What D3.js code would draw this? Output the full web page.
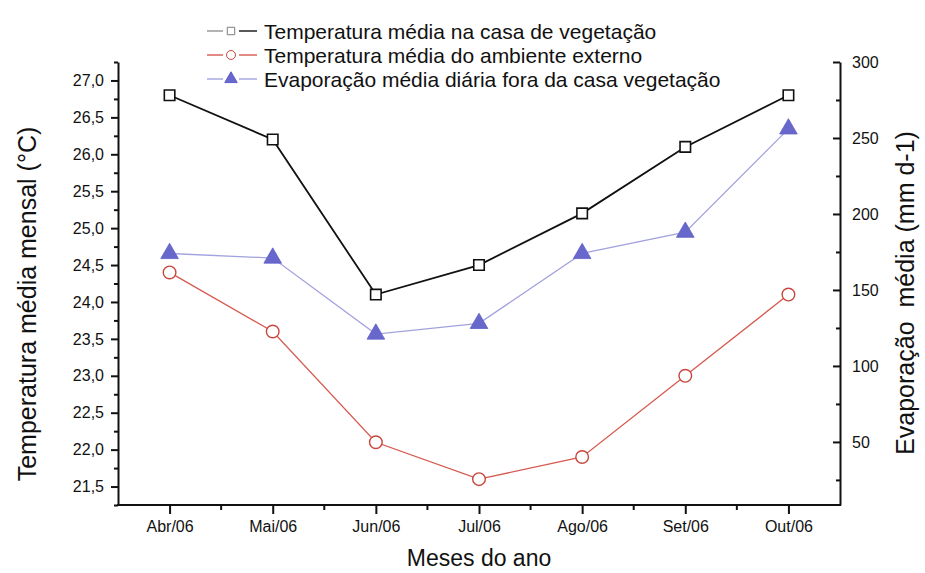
<!DOCTYPE html>
<html><head><meta charset="utf-8">
<script src="https://cdn.jsdelivr.net/npm/d3@7"></script>
<style>
body{margin:0;background:#fff}
svg{display:block}
text{font-family:"Liberation Sans",Arial,sans-serif;fill:#111}
</style>
</head><body>
<svg id="chart" width="925" height="573"></svg>
<script>
// Monthly data, April to October 2006
const months = ["Abr/06","Mai/06","Jun/06","Jul/06","Ago/06","Set/06","Out/06"];
const tempCasa = [26.8, 26.2, 24.1, 24.5, 25.2, 26.1, 26.8];
const tempExterno = [24.4, 23.6, 22.1, 21.6, 21.9, 23.0, 24.1];
const evaporacao = [174, 171, 121, 128, 174, 188, 256];

const leftTicks = [21.5, 22.0, 22.5, 23.0, 23.5, 24.0, 24.5, 25.0, 25.5, 26.0, 26.5, 27.0];
const rightTicks = [50, 100, 150, 200, 250, 300];
const legendLabels = [
  "Temperatura média na casa de vegetação",
  "Temperatura média do ambiente externo",
  "Evaporação média diária fora da casa vegetação"
];

const svg = d3.select("#chart");
const L = 118, R = 840, T = 62, B = 505;

const x = d3.scalePoint().domain(months).range([L, R]).padding(0.5);
const yL = d3.scaleLinear().domain([21.25, 27.25]).range([B, T]);
const yR = d3.scaleLinear().domain([8.5, 300]).range([B, T]);

const comma = v => d3.format(".1f")(v).replace(".", ",");

// Minor tick positions
const leftMinor = d3.range(21.25, 27.3, 0.25).filter(v => Math.abs(v * 2 - Math.round(v * 2)) > 1e-6);
const rightMinor = d3.range(25, 300, 50);
const step = x.step();

const axisStyle = g => {
  g.selectAll(".domain").attr("stroke", "#111").attr("stroke-width", 2);
  g.selectAll(".tick line").attr("stroke", "#111").attr("stroke-width", 2);
  g.selectAll(".tick text").attr("font-size", 16).attr("fill", "#111")
    .attr("font-family", '"Liberation Sans",Arial,sans-serif');
};

// Left axis
svg.append("g").attr("transform", `translate(${L},0)`)
  .call(d3.axisLeft(yL).tickValues(leftMinor).tickSize(4).tickFormat(""))
  .call(g => g.select(".domain").remove())
  .call(axisStyle);
svg.append("g").attr("transform", `translate(${L},0)`)
  .call(d3.axisLeft(yL).tickValues(leftTicks).tickSize(7).tickSizeOuter(0).tickPadding(7).tickFormat(comma))
  .call(axisStyle);

// Right axis, ticks pointing into the plot
svg.append("g").attr("transform", `translate(${R},0)`)
  .call(d3.axisRight(yR).tickValues(rightMinor).tickSizeInner(-4).tickSizeOuter(0).tickFormat(""))
  .call(g => g.select(".domain").remove())
  .call(axisStyle);
svg.append("g").attr("transform", `translate(${R},0)`)
  .call(d3.axisRight(yR).tickValues(rightTicks).tickSizeInner(-7).tickSizeOuter(0).tickPadding(12))
  .call(axisStyle);

// Bottom axis with minor ticks between months
const xMinorPos = d3.range(months.length - 1).map(i => x(months[i]) + step / 2);
const bottom = svg.append("g").attr("transform", `translate(0,${B})`)
  .call(d3.axisBottom(x).tickSize(9).tickSizeOuter(0).tickPadding(7))
  .call(axisStyle);
bottom.select(".domain").attr("d", `M${L - 1},0H${R + 1}`);
bottom.selectAll(".minor").data(xMinorPos).join("line")
  .attr("class", "minor").attr("x1", d => d).attr("x2", d => d)
  .attr("y1", 0).attr("y2", 5).attr("stroke", "#111").attr("stroke-width", 2);

// Axis titles
svg.append("text")
  .attr("transform", "translate(36,304) rotate(-90)")
  .attr("text-anchor", "middle").attr("font-size", 25)
  .text("Temperatura média mensal (°C)");
svg.append("text")
  .attr("transform", "translate(914,293) rotate(-90)")
  .attr("text-anchor", "middle").attr("font-size", 25)
  .style("white-space", "pre")
  .text("Evaporação  média (mm d-1)");
svg.append("text").attr("x", (L + R) / 2).attr("y", 566)
  .attr("text-anchor", "middle").attr("font-size", 23).text("Meses do ano");

// Series
const series = [
  {values: tempCasa, scale: yL, line: "#111", marker: d3.symbolSquare, size: 110, stroke: "#111", fill: "#fff", lw: 1.8, mw: 1.6},
  {values: tempExterno, scale: yL, line: "#d65a50", marker: d3.symbolCircle, size: 125, stroke: "#c9463e", fill: "#fff", lw: 1.3, mw: 1.4},
  {values: evaporacao, scale: yR, line: "#a2a2de", marker: d3.symbolTriangle, size: 135, stroke: "#5f5fc8", fill: "#6767cc", lw: 1.3, mw: 0.8}
];

series.forEach(s => {
  const line = d3.line().x((d, i) => x(months[i])).y(d => s.scale(d));
  svg.append("path").datum(s.values).attr("d", line)
    .attr("fill", "none").attr("stroke", s.line).attr("stroke-width", s.lw);
  svg.append("g").selectAll("path").data(s.values).join("path")
    .attr("transform", (d, i) => `translate(${x(months[i])},${s.scale(d)})`)
    .attr("d", d3.symbol().type(s.marker).size(s.size)())
    .attr("fill", s.fill).attr("stroke", s.stroke).attr("stroke-width", s.mw);
});

// Legend
const legend = svg.append("g");
legendLabels.forEach((lab, i) => {
  const s = series[i];
  const ly = 31 + i * 24;
  const g = legend.append("g").attr("transform", `translate(0,${ly})`);
  g.append("line").attr("x1", 207).attr("x2", 223).attr("y1", 0).attr("y2", 0)
    .attr("stroke", s.line).attr("stroke-width", 1.4).attr("opacity", i === 0 ? 0.45 : 1);
  g.append("line").attr("x1", 239).attr("x2", 257).attr("y1", 0).attr("y2", 0)
    .attr("stroke", s.line).attr("stroke-width", 1.4);
  g.append("path").attr("transform", "translate(231,0)")
    .attr("d", d3.symbol().type(s.marker).size(s.size * 0.5)())
    .attr("fill", s.fill).attr("stroke", s.stroke).attr("stroke-width", 1)
    .attr("opacity", i === 0 ? 0.55 : 1);
  g.append("text").attr("x", 264).attr("y", 7.5).attr("font-size", 21).text(lab);
});
</script>
</body></html>
